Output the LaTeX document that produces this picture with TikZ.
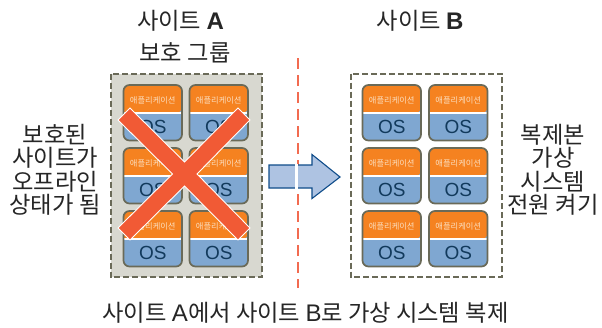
\documentclass[tikz,border=0pt]{standalone}
\usepackage{fontspec}
\setmainfont{Noto Sans CJK KR}[Scale=0.95]
\newfontfamily\latf{Liberation Sans}[Scale=0.98]
\newfontfamily\osf{Liberation Sans}
\newcommand{\la}[1]{{\latf #1}}
\definecolor{frameC}{HTML}{6A6A58}
\definecolor{groupC}{HTML}{D8D8D0}
\definecolor{orangeC}{HTML}{F58220}
\definecolor{blueC}{HTML}{7FA7D1}
\definecolor{osC}{HTML}{123A5C}
\definecolor{appC}{HTML}{FBDDBD}
\definecolor{redC}{HTML}{F15A35}
\definecolor{arrowF}{HTML}{AEC3E2}
\definecolor{arrowD}{HTML}{0F4C8A}
\definecolor{splitC}{HTML}{F26B50}
\tikzset{
  x=1pt,y=-1pt,
  groupbox/.style={draw=frameC,line width=2pt,dash pattern=on 6pt off 3pt},
  cardframe/.style={draw=frameC,line width=1.7pt,rounded corners=6pt},
  applabel/.style={text=appC,font=\fontsize{8.7}{9}\selectfont,inner sep=0pt},
  oslabel/.style={text=osC,font=\fontsize{19}{20}\osf,inner sep=0pt},
  lbl/.style={font=\fontsize{24.5}{23.5}\selectfont,align=center,inner sep=0pt,text=black!85},
  splitline/.style={draw=splitC,line width=2.1pt,dash pattern=on 11pt off 6pt},
  cardpic/.pic={
    \path[fill=blueC,rounded corners=6pt] (0,0) rectangle (58.5,55.5);
    \path[fill=orangeC,rounded corners=6pt] (0,28) -- (0,0) -- (58.5,0) -- (58.5,28) [sharp corners] -- cycle;
    \draw[white,line width=1.2pt] (0,28) -- (58.5,28);
    \path[cardframe] (0,0) rectangle (58.5,55.5);
    \node[applabel] (-app) at (29.25,15) {애플리케이션};
    \node[oslabel] (-os) at (29.25,42) {OS};
  }
}
\begin{document}
\begin{tikzpicture}
\useasboundingbox[fill=white] (0,0) rectangle (602,327);
\path[groupbox,fill=groupC] (110.5,73.5) rectangle (262,277);
\path[groupbox] (350.5,73.5) rectangle (502,277);
\foreach \nm/\cx/\cy in {a1/123.5/85,a2/189.5/85,a3/123.5/148,a4/189.5/148,a5/123.5/211,a6/189.5/211,b1/362.5/85,b2/429/85,b3/362.5/148,b4/429/148,b5/362.5/211,b6/429/211}
  \pic (\nm) at (\cx,\cy) {cardpic};
\draw[redC,draw=white,line width=0.9pt,fill=redC] (130,108) -- (184.5,162) -- (238,108) -- (250,120) -- (197,174) -- (250,228) -- (238,240) -- (184.5,186) -- (130,240) -- (118,228) -- (172.5,174) -- (118,120) -- cycle;
\path[splitline] (298,58) -- (298,288);
\draw[draw=arrowD,line width=1.1pt,fill=arrowF] (269,165) -- (312,165) -- (312,154.5) -- (340,177) -- (312,198.5) -- (312,188) -- (269,188) -- cycle;
\fill[white] (295,164) rectangle (298,189);
\node[lbl] (siteA) at (180.5,21) {사이트 \textbf{\la{A}}};
\node[lbl] (protect) at (185,53) {보호 그룹};
\node[lbl] (siteB) at (420,21) {사이트 \textbf{\la{B}}};
\node[lbl] (left) at (55,170) {보호된\\사이트가\\오프라인\\상태가 됨};
\node[lbl] (right) at (553,170) {복제본\\가상\\시스템\\전원 켜기};
\node[lbl] (bottom) at (305.5,313) {사이트 \la{A}에서 사이트 \la{B}로 가상 시스템 복제};
\end{tikzpicture}
\end{document}
